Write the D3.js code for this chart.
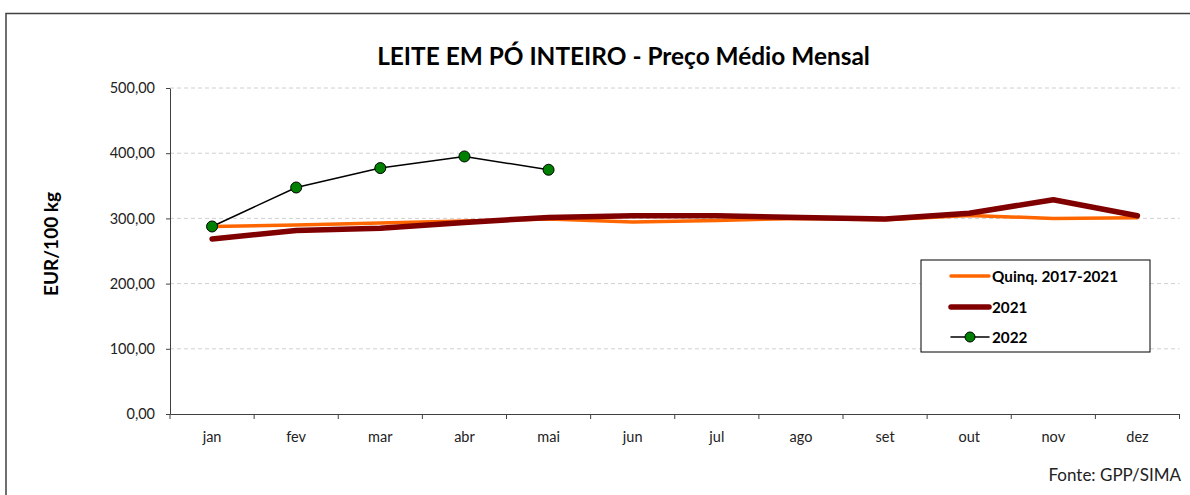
<!DOCTYPE html>
<html>
<head>
<meta charset="utf-8">
<script src="https://cdn.jsdelivr.net/npm/d3@7"></script>
<style>
  body { margin: 0; background: #fff; }
  svg { display: block; font-family: Lato, "Liberation Sans", sans-serif; }
</style>
</head>
<body>
<div id="chart"></div>
<script>
// -------- Data --------
const months = ["jan", "fev", "mar", "abr", "mai", "jun", "jul", "ago", "set", "out", "nov", "dez"];
const quinq = [287.6, 290, 292.8, 296, 299, 294.5, 296.8, 300, 298, 304.5, 300, 301];
const y2021 = [268.3, 281.5, 285, 293.8, 301.5, 304, 304, 301.5, 299, 308, 328.6, 304];
const y2022 = [287.6, 347.4, 377.2, 395, 374.6];
const yTicks = [0, 100, 200, 300, 400, 500];

const seriesInfo = [
  { name: "Quinq. 2017-2021", values: quinq, color: "#ff6600", width: 3.5, marker: false },
  { name: "2021", values: y2021, color: "#800000", width: 5.5, marker: false },
  { name: "2022", values: y2022, color: "#000000", width: 1.5, marker: true }
];

// -------- Layout --------
const W = 1190, H = 495;
const margin = { top: 88, right: 10, bottom: 81, left: 170 };
const plotW = 1179.5 - margin.left;
const plotH = H - margin.top - margin.bottom;

const svg = d3.select("#chart").append("svg")
  .attr("width", W)
  .attr("height", H);

// outer frame
svg.append("rect")
  .attr("x", 6).attr("y", 13.5)
  .attr("width", W).attr("height", H)
  .attr("fill", "none")
  .attr("stroke", "#404040")
  .attr("stroke-width", 1.5);

const g = svg.append("g")
  .attr("transform", `translate(${margin.left},${margin.top})`);

const x = d3.scaleBand().domain(months).range([0, plotW]);
const y = d3.scaleLinear().domain([0, 500]).range([plotH, 0]);
const fmt = d => d3.format(".2f")(d).replace(".", ",");

// gridlines
g.append("g")
  .selectAll("line")
  .data(yTicks.filter(d => d > 0))
  .join("line")
  .attr("x1", 0).attr("x2", plotW)
  .attr("y1", d => y(d)).attr("y2", d => y(d))
  .attr("stroke", "#d0d0d0")
  .attr("stroke-dasharray", "4,3")
  .attr("stroke-width", 1);

// Y axis
const yAxis = g.append("g")
  .call(d3.axisLeft(y).tickValues(yTicks).tickFormat(fmt).tickSize(4).tickSizeOuter(0));
yAxis.select(".domain").attr("stroke", "#404040");
yAxis.selectAll(".tick line").attr("stroke", "#404040");
yAxis.selectAll("text")
  .attr("font-size", 14.5)
  .attr("font-family", "Lato, sans-serif")
  .attr("fill", "#222")
  .attr("x", -15);

// X axis
const xAxis = g.append("g")
  .attr("transform", `translate(0,${plotH})`)
  .call(d3.axisBottom(x).tickSize(0).tickSizeOuter(0));
xAxis.select(".domain").attr("stroke", "#404040");
xAxis.selectAll("text")
  .attr("font-size", 14.5)
  .attr("font-family", "Lato, sans-serif")
  .attr("fill", "#222")
  .attr("dy", 0)
  .attr("y", 28);

// band separator ticks on x axis
g.append("g")
  .selectAll("line")
  .data(d3.range(months.length + 1))
  .join("line")
  .attr("x1", i => i * x.bandwidth()).attr("x2", i => i * x.bandwidth())
  .attr("y1", plotH).attr("y2", plotH + 5)
  .attr("stroke", "#404040");

// lines
const cx = (d, i) => x(months[i]) + x.bandwidth() / 2;
seriesInfo.forEach(s => {
  const line = d3.line().x(cx).y(d => y(d));
  g.append("path")
    .datum(s.values)
    .attr("d", line)
    .attr("fill", "none")
    .attr("stroke", s.color)
    .attr("stroke-width", s.width)
    .attr("stroke-linejoin", "round")
    .attr("stroke-linecap", "round");
  if (s.marker) {
    g.append("g")
      .selectAll("circle")
      .data(s.values)
      .join("circle")
      .attr("cx", cx)
      .attr("cy", d => y(d))
      .attr("r", 5.5)
      .attr("fill", "#008000")
      .attr("stroke", "#000")
      .attr("stroke-width", 1);
  }
});

// title
svg.append("text")
  .attr("x", 623.5).attr("y", 65)
  .attr("text-anchor", "middle")
  .attr("font-size", 24.4)
  .attr("font-weight", "bold")
  .attr("fill", "#000")
  .text("LEITE EM PÓ INTEIRO - Preço Médio Mensal");

// y axis title
svg.append("text")
  .attr("transform", `translate(58,244) rotate(-90)`)
  .attr("text-anchor", "middle")
  .attr("font-size", 19)
  .attr("font-weight", "bold")
  .attr("fill", "#000")
  .text("EUR/100 kg");

// source
svg.append("text")
  .attr("x", 1181).attr("y", 481)
  .attr("text-anchor", "end")
  .attr("font-size", 17)
  .attr("fill", "#222")
  .text("Fonte: GPP/SIMA");

// legend
const legend = svg.append("g").attr("transform", "translate(921,260)");
legend.append("rect")
  .attr("width", 229).attr("height", 92)
  .attr("fill", "#fff")
  .attr("stroke", "#000")
  .attr("stroke-width", 1);
const rowY = [16, 47, 77];
seriesInfo.forEach((s, i) => {
  const row = legend.append("g").attr("transform", `translate(0,${rowY[i]})`);
  row.append("line")
    .attr("x1", 30).attr("x2", 68)
    .attr("stroke", s.color)
    .attr("stroke-width", s.width)
    .attr("stroke-linecap", "round");
  if (s.marker) {
    row.append("circle")
      .attr("cx", 49).attr("r", 5)
      .attr("fill", "#008000")
      .attr("stroke", "#000");
  }
  row.append("text")
    .attr("x", 71).attr("y", 5.5)
    .attr("font-size", 15.3)
    .attr("font-weight", "bold")
    .attr("fill", "#000")
    .text(s.name);
});
</script>
</body>
</html>
